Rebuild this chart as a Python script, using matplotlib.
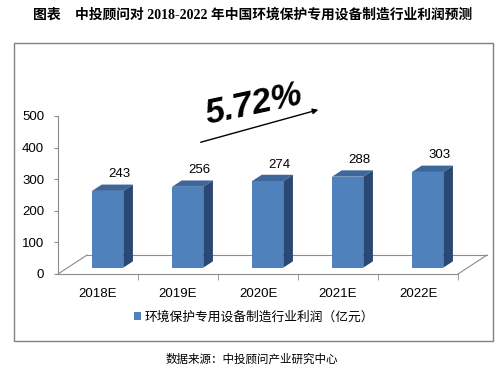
import matplotlib
matplotlib.use("Agg")
import matplotlib.pyplot as plt
from matplotlib.patches import Rectangle, Patch

# 数据
years = ["2018E", "2019E", "2020E", "2021E", "2022E"]
profit = [243, 256, 274, 288, 303]
growth_label = "5.72%"
series_name = "环境保护专用设备制造行业利润（亿元）"
title_head = "图表"
title_body = "中投顾问对 2018-2022 年中国环境保护专用设备制造行业利润预测"
source = "数据来源：中投顾问产业研究中心"

CJK = ["Noto Sans CJK SC", "DejaVu Sans"]
SERIF_CJK = ["Liberation Serif", "Noto Sans CJK SC"]
SANS = ["Liberation Sans", "DejaVu Sans"]

FRONT = "#4f81bd"
TOP = "#3d669a"
SIDE = "#2a4872"
GRID = "#8c8c8c"

W, H = 504, 376
fig = plt.figure(figsize=(W / 100, H / 100), dpi=100)
fig.patch.set_facecolor("white")

# 外框
fig.add_artist(Rectangle((14 / W, 1 - 341 / H), 479 / W, 298 / H,
                         transform=fig.transFigure, fill=False,
                         edgecolor="#808080", lw=1.0))

ax = fig.add_axes([58 / W, 1 - 274 / H, 400 / W, 158 / H])
n = len(years)
ax.set_xlim(0, n)
ax.set_ylim(0, 500)

# 伪 3D 深度（数据单位）
dep_x, dep_y = 0.3625, 60.0
off_x, off_y = dep_x / 3, dep_y / 3
bar_dx, bar_dy = dep_x / 3, dep_y / 3
bw = 0.39

# 地板
ax.plot([dep_x, n + dep_x], [dep_y, dep_y], color=GRID, lw=0.8, clip_on=False)
ax.plot([0, dep_x], [0, dep_y], color=GRID, lw=0.8, clip_on=False)
ax.plot([n, n + dep_x], [0, dep_y], color=GRID, lw=0.8, clip_on=False)

for i, v in enumerate(profit):
    x0 = i + 0.5 + off_x - bw / 2
    x1 = x0 + bw
    y0 = off_y
    y1 = off_y + v
    ax.fill([x1, x1 + bar_dx, x1 + bar_dx, x1],
            [y0, y0 + bar_dy, y1 + bar_dy, y1], color=SIDE, lw=0, clip_on=False, zorder=3)
    ax.fill([x0, x1, x1 + bar_dx, x0 + bar_dx],
            [y1, y1, y1 + bar_dy, y1 + bar_dy], color=TOP, lw=0, clip_on=False, zorder=3)
    ax.fill([x0, x1, x1, x0], [y0, y0, y1, y1], color=FRONT, lw=0,
            clip_on=False, zorder=3)
    ax.text(i + 0.5 + off_x + 0.15, y1 + bar_dy + 32, str(v), ha="center", va="center",
            fontsize=9.5, family=SANS, zorder=4)

# 坐标轴
for s in ("top", "right"):
    ax.spines[s].set_visible(False)
ax.spines["left"].set_color(GRID)
ax.spines["bottom"].set_color(GRID)
ax.set_yticks(range(0, 501, 100))
ax.set_xticks([i + 0.5 for i in range(n)])
ax.set_xticklabels(years)
ax.set_xticks(range(1, n + 1), minor=True)
ax.tick_params(axis="x", which="major", length=0, pad=10)
ax.tick_params(axis="x", which="minor", length=4, color=GRID)
ax.tick_params(axis="y", length=3, color=GRID, pad=7)
for lab in ax.get_xticklabels() + ax.get_yticklabels():
    lab.set_fontfamily(SANS)
    lab.set_fontsize(9.5)
ax.patch.set_alpha(0)

# 增长率
fig.text(254 / W, 1 - 104 / H, growth_label, rotation=12, ha="center", va="center",
         fontsize=25, fontstyle="italic", fontweight="bold", family=SANS)
ax.annotate("", xy=(321 / W, 1 - 109 / H), xytext=(198 / W, 1 - 143 / H),
            xycoords="figure fraction", textcoords="figure fraction",
            arrowprops=dict(arrowstyle="-|>", lw=1.0, color="black", mutation_scale=8))

# 图例
fig.legend(handles=[Patch(facecolor=FRONT, edgecolor="none", label=series_name)],
           loc="center", bbox_to_anchor=(254 / W, 1 - 317 / H), frameon=False,
           handlelength=0.6, handleheight=0.6, handletextpad=0.3,
           prop={"family": CJK, "size": 9.2})

# 标题与来源
fig.text(33 / W, 1 - 15 / H, title_head, ha="left", va="center", fontsize=10,
         fontweight="bold", family=SERIF_CJK)
fig.text(75 / W, 1 - 15 / H, title_body, ha="left", va="center", fontsize=9.9,
         fontweight="bold", family=SERIF_CJK)
fig.text(252 / W, 1 - 359 / H, source, ha="center", va="center", fontsize=8.3, family=CJK)

fig.savefig("out.png", dpi=100)
